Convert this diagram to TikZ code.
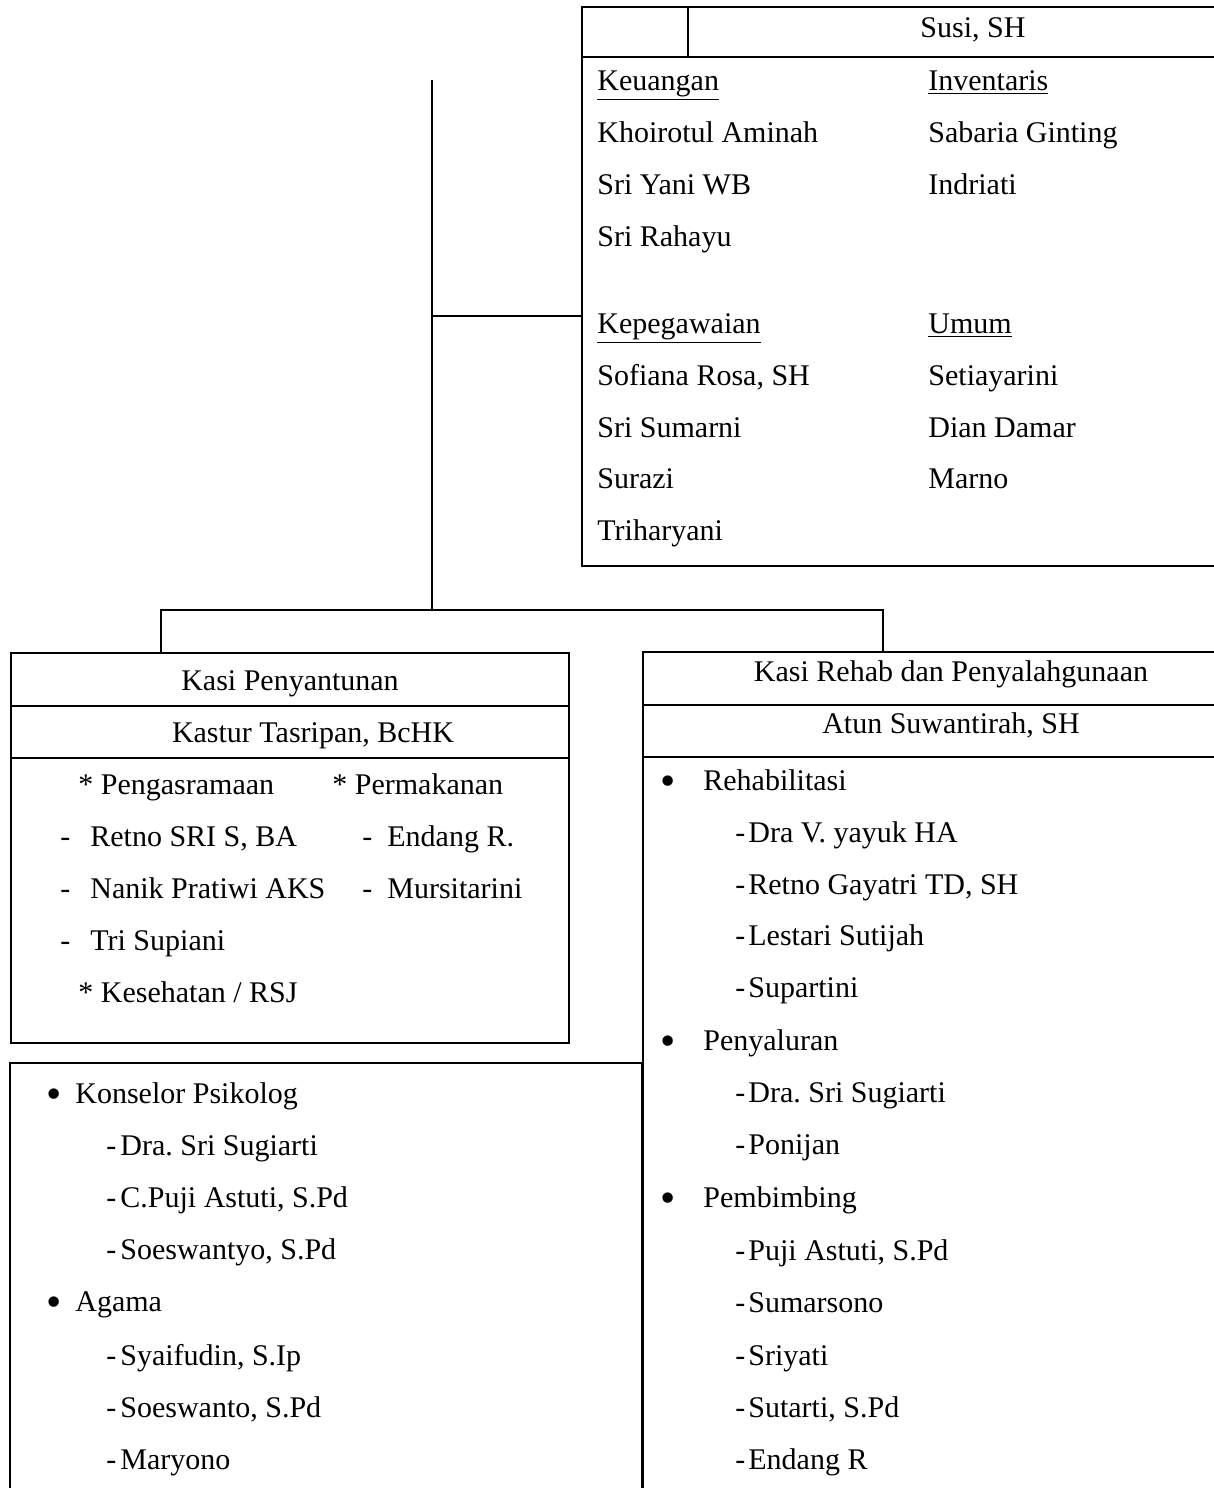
\documentclass[tikz,border=0pt]{standalone}
\usepackage{fontspec}
\setmainfont{Liberation Serif}
\usetikzlibrary{positioning}
\frenchspacing
\newcommand{\dashed}[2]{\makebox[#1][l]{-}#2}
\newcommand{\bulleted}[2]{\makebox[#1][l]{\raisebox{-2.6pt}{\scalebox{1.45}{\textbullet}}}#2}
\begin{document}
\begin{tikzpicture}[x=0.5pt,y=-0.5pt]
\tikzstyle{panel}=[rectangle,draw,line width=0.8pt,anchor=north west,inner sep=0pt,outer sep=0pt]
\tikzstyle{entry}=[anchor=base west,inner sep=0pt,font=\fontsize{15}{18}\selectfont]
\tikzstyle{heading}=[anchor=base,inner sep=0pt,font=\fontsize{15}{18}\selectfont]
\tikzstyle{wire}=[line width=0.8pt]
\useasboundingbox (0,0) rectangle (1214,1488);
% boxes
\node [panel,minimum width=321.5pt,minimum height=279.5pt] (sekre) at (582,7) {};
\node [panel,minimum width=279pt,minimum height=195pt] (penyantunan) at (11,653) {};
\node [panel,minimum width=316pt,minimum height=218.5pt] (konselor) at (10,1063) {};
\node [panel,minimum width=291pt,minimum height=424pt] (rehab) at (643,652) {};
\draw [wire] (688,7) -- (688,57);
\draw [wire] (sekre.west |- 0,57) -- (sekre.east |- 0,57);
\draw [wire] (penyantunan.west |- 0,706) -- (penyantunan.east |- 0,706);
\draw [wire] (penyantunan.west |- 0,758) -- (penyantunan.east |- 0,758);
\draw [wire] (rehab.west |- 0,705) -- (rehab.east |- 0,705);
\draw [wire] (rehab.west |- 0,757) -- (rehab.east |- 0,757);
% connectors
\coordinate (top) at (432,80);
\coordinate (tap) at (432,316);
\coordinate (joint) at (432,610);
\coordinate (hookL) at (161,610);
\coordinate (hookR) at (883,610);
\draw [wire] (top) -- (joint);
\draw [wire] (tap) -- (tap -| sekre.west);
\draw [wire] (hookL |- penyantunan.north) -- (hookL) -- (hookR) -- (hookR |- rehab.north);
% sekretariat
\node [heading] (kasubag) at (973,38) {Susi, SH};
\node [entry] (keu) at (597,90) {\underline{Keuangan}};
\node [entry] (keu1) at (597,142) {Khoirotul Aminah};
\node [entry] (keu2) at (597,194) {Sri Yani WB};
\node [entry] (keu3) at (597,246) {Sri Rahayu};
\node [entry] (inv) at (928,90) {\underline{Inventaris}};
\node [entry] (inv1) at (928,142) {Sabaria Ginting};
\node [entry] (inv2) at (928,194) {Indriati};
\node [entry] (peg) at (597,333) {\underline{Kepegawaian}};
\node [entry] (peg1) at (597,385) {Sofiana Rosa, SH};
\node [entry] (peg2) at (597,437) {Sri Sumarni};
\node [entry] (peg3) at (597,488) {Surazi};
\node [entry] (peg4) at (597,540) {Triharyani};
\node [entry] (umum) at (928,333) {\underline{Umum}};
\node [entry] (umum1) at (928,385) {Setiayarini};
\node [entry] (umum2) at (928,437) {Dian Damar};
\node [entry] (umum3) at (928,488) {Marno};
% penyantunan
\node [heading] (kasi1) at (290,690) {Kasi Penyantunan};
\node [heading] (kasi1n) at (313,742) {Kastur Tasripan, BcHK};
\node [entry] (asrama) at (78,794) {* Pengasramaan};
\node [entry] (makan) at (332,794) {* Permakanan};
\node [entry] (asrama1) at (60,846) {\dashed{15pt}{Retno SRI S, BA}};
\node [entry] (asrama2) at (60,898) {\dashed{15pt}{Nanik Pratiwi AKS}};
\node [entry] (asrama3) at (60,950) {\dashed{15pt}{Tri Supiani}};
\node [entry] (makan1) at (362,846) {\dashed{12.5pt}{Endang R.}};
\node [entry] (makan2) at (362,898) {\dashed{12.5pt}{Mursitarini}};
\node [entry] (sehat) at (78,1002) {* Kesehatan / RSJ};
% konselor
\node [entry] (psi) at (46,1103) {\bulleted{14.5pt}{Konselor Psikolog}};
\node [entry] (psi1) at (106,1155) {\dashed{7pt}{Dra. Sri Sugiarti}};
\node [entry] (psi2) at (106,1207) {\dashed{7pt}{C.Puji Astuti, S.Pd}};
\node [entry] (psi3) at (106,1259) {\dashed{7pt}{Soeswantyo, S.Pd}};
\node [entry] (agama) at (46,1311) {\bulleted{14.5pt}{Agama}};
\node [entry] (agama1) at (106,1365) {\dashed{7pt}{Syaifudin, S.Ip}};
\node [entry] (agama2) at (106,1417) {\dashed{7pt}{Soeswanto, S.Pd}};
\node [entry] (agama3) at (106,1469) {\dashed{7pt}{Maryono}};
% rehab
\node [heading] (kasi2) at (951,681) {Kasi Rehab dan Penyalahgunaan};
\node [heading] (kasi2n) at (951,733) {Atun Suwantirah, SH};
\node [entry] (rhb) at (660,790) {\bulleted{21.5pt}{Rehabilitasi}};
\node [entry] (rhb1) at (735,842) {\dashed{6.5pt}{Dra V. yayuk HA}};
\node [entry] (rhb2) at (735,894) {\dashed{6.5pt}{Retno Gayatri TD, SH}};
\node [entry] (rhb3) at (735,945) {\dashed{6.5pt}{Lestari Sutijah}};
\node [entry] (rhb4) at (735,997) {\dashed{6.5pt}{Supartini}};
\node [entry] (salur) at (660,1050) {\bulleted{21.5pt}{Penyaluran}};
\node [entry] (salur1) at (735,1102) {\dashed{6.5pt}{Dra. Sri Sugiarti}};
\node [entry] (salur2) at (735,1154) {\dashed{6.5pt}{Ponijan}};
\node [entry] (bimb) at (660,1207) {\bulleted{21.5pt}{Pembimbing}};
\node [entry] (bimb1) at (735,1260) {\dashed{6.5pt}{Puji Astuti, S.Pd}};
\node [entry] (bimb2) at (735,1312) {\dashed{6.5pt}{Sumarsono}};
\node [entry] (bimb3) at (735,1365) {\dashed{6.5pt}{Sriyati}};
\node [entry] (bimb4) at (735,1417) {\dashed{6.5pt}{Sutarti, S.Pd}};
\node [entry] (bimb5) at (735,1469) {\dashed{6.5pt}{Endang R}};
\end{tikzpicture}
\end{document}
